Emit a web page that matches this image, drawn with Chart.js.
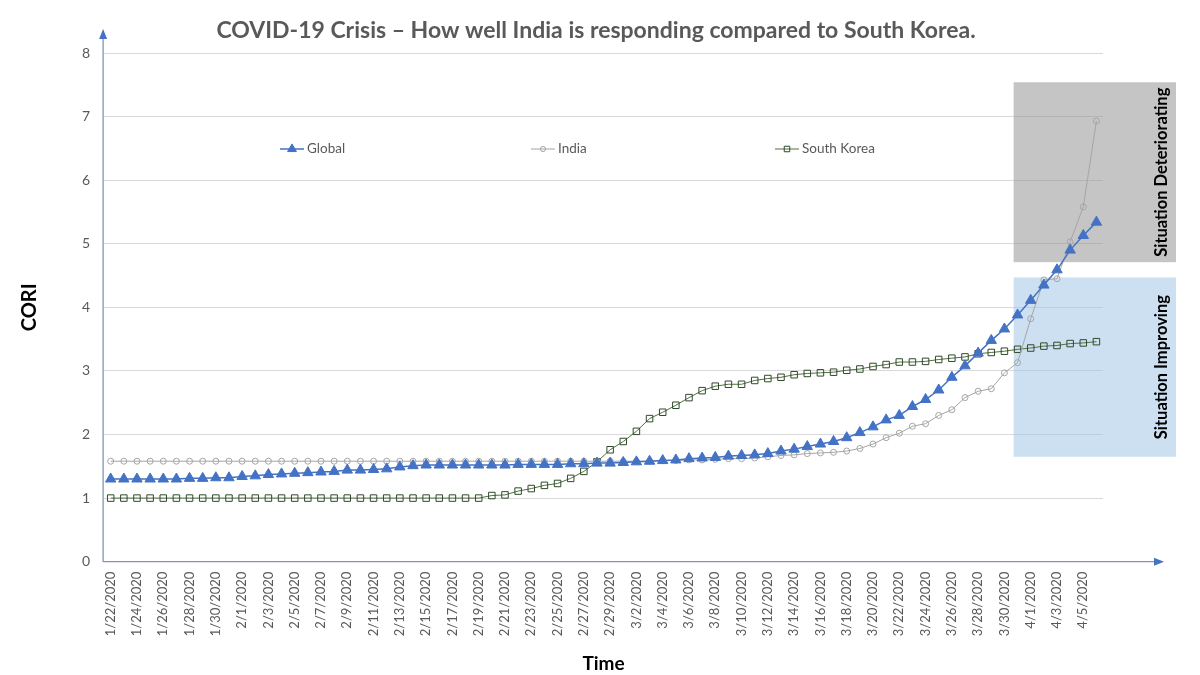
<!DOCTYPE html>
<html>
<head>
<meta charset="utf-8">
<script src="https://cdn.jsdelivr.net/npm/chart.js@4"></script>
<style>
  html, body { margin: 0; padding: 0; background: #fff; }
  #wrap { width: 1200px; height: 675px; }
</style>
</head>
<body>
<div id="wrap"><canvas id="cori-chart" width="1200" height="675"></canvas></div>
<script>
// dates on the x axis (every day, only every second one gets a label)
const dates = [
  '1/22/2020','1/23/2020','1/24/2020','1/25/2020','1/26/2020','1/27/2020','1/28/2020','1/29/2020','1/30/2020','1/31/2020',
  '2/1/2020','2/2/2020','2/3/2020','2/4/2020','2/5/2020','2/6/2020','2/7/2020','2/8/2020','2/9/2020','2/10/2020',
  '2/11/2020','2/12/2020','2/13/2020','2/14/2020','2/15/2020','2/16/2020','2/17/2020','2/18/2020','2/19/2020','2/20/2020',
  '2/21/2020','2/22/2020','2/23/2020','2/24/2020','2/25/2020','2/26/2020','2/27/2020','2/28/2020','2/29/2020',
  '3/1/2020','3/2/2020','3/3/2020','3/4/2020','3/5/2020','3/6/2020','3/7/2020','3/8/2020','3/9/2020','3/10/2020',
  '3/11/2020','3/12/2020','3/13/2020','3/14/2020','3/15/2020','3/16/2020','3/17/2020','3/18/2020','3/19/2020','3/20/2020',
  '3/21/2020','3/22/2020','3/23/2020','3/24/2020','3/25/2020','3/26/2020','3/27/2020','3/28/2020','3/29/2020','3/30/2020',
  '3/31/2020','4/1/2020','4/2/2020','4/3/2020','4/4/2020','4/5/2020','4/6/2020'
];

// CORI values
const globalCori = [
  1.30,1.30,1.30,1.30,1.30,1.30,1.31,1.31,1.32,1.32,
  1.34,1.35,1.37,1.38,1.39,1.40,1.41,1.42,1.44,1.44,
  1.45,1.46,1.49,1.51,1.52,1.52,1.52,1.52,1.52,1.52,
  1.52,1.53,1.53,1.53,1.53,1.54,1.54,1.55,1.55,1.56,
  1.57,1.58,1.59,1.60,1.62,1.63,1.64,1.66,1.67,1.68,
  1.70,1.74,1.77,1.81,1.85,1.89,1.95,2.03,2.12,2.23,
  2.30,2.44,2.55,2.70,2.90,3.08,3.28,3.48,3.66,3.88,
  4.11,4.35,4.59,4.90,5.13,5.34
];
const indiaCori = [
  1.58,1.58,1.58,1.58,1.58,1.58,1.58,1.58,1.58,1.58,
  1.58,1.58,1.58,1.58,1.58,1.58,1.58,1.58,1.58,1.58,
  1.58,1.58,1.58,1.58,1.58,1.58,1.58,1.58,1.58,1.58,
  1.58,1.58,1.58,1.58,1.58,1.58,1.58,1.58,1.58,1.58,
  1.58,1.58,1.59,1.59,1.60,1.60,1.61,1.62,1.62,1.63,
  1.65,1.67,1.68,1.70,1.71,1.72,1.74,1.78,1.85,1.95,
  2.02,2.13,2.17,2.30,2.39,2.58,2.68,2.72,2.97,3.13,
  3.82,4.43,4.45,5.03,5.58,6.93
];
const koreaCori = [
  1.00,1.00,1.00,1.00,1.00,1.00,1.00,1.00,1.00,1.00,
  1.00,1.00,1.00,1.00,1.00,1.00,1.00,1.00,1.00,1.00,
  1.00,1.00,1.00,1.00,1.00,1.00,1.00,1.00,1.00,1.04,
  1.05,1.11,1.15,1.20,1.23,1.31,1.42,1.57,1.76,1.89,
  2.05,2.25,2.35,2.46,2.58,2.69,2.76,2.79,2.79,2.85,
  2.88,2.90,2.94,2.96,2.97,2.98,3.01,3.03,3.07,3.10,
  3.14,3.14,3.15,3.18,3.20,3.22,3.27,3.29,3.31,3.34,
  3.36,3.39,3.40,3.43,3.44,3.46
];

// shaded zones: [from index, CORI low, CORI high, label]
const zones = [
  { from: 68.7, low: 4.71, high: 7.54, label: 'Situation Deteriorating', color: 'rgba(150,150,150,0.55)' },
  { from: 68.7, low: 1.65, high: 4.47, label: 'Situation Improving', color: 'rgba(157,195,230,0.52)' }
];

const FONT = 'Lato, "Noto Sans", sans-serif';
const GREY_TEXT = '#595959';

// background zones, axis lines with arrows
const decorPlugin = {
  id: 'decor',
  beforeDatasetsDraw(chart) {
    const ctx = chart.ctx;
    const x = chart.scales.x, y = chart.scales.y, area = chart.chartArea;
    ctx.save();
    zones.forEach(z => {
      const left = x.getPixelForValue(z.from);
      const right = area.right + 73;
      const top = y.getPixelForValue(z.high);
      const bottom = y.getPixelForValue(z.low);
      ctx.fillStyle = z.color;
      ctx.fillRect(left, top, right - left, bottom - top);
      ctx.save();
      ctx.translate(right - 14, (top + bottom) / 2);
      ctx.rotate(-Math.PI / 2);
      ctx.fillStyle = '#000';
      ctx.font = 'bold 16.5px ' + FONT;
      ctx.textAlign = 'center';
      ctx.textBaseline = 'middle';
      ctx.fillText(z.label, 0, 0);
      ctx.restore();
    });

    // axes
    const ax = area.left - 1, ay = area.bottom;
    ctx.strokeStyle = '#7f95b5';
    ctx.lineWidth = 1.3;
    ctx.beginPath();
    ctx.moveTo(ax, ay);
    ctx.lineTo(ax, area.top - 18);
    ctx.moveTo(ax, ay);
    ctx.lineTo(area.right + 55, ay);
    ctx.stroke();
    ctx.fillStyle = '#4472c4';
    ctx.beginPath();
    ctx.moveTo(ax, area.top - 24);
    ctx.lineTo(ax - 4, area.top - 14);
    ctx.lineTo(ax + 4, area.top - 14);
    ctx.closePath();
    ctx.fill();
    ctx.beginPath();
    ctx.moveTo(area.right + 61, ay);
    ctx.lineTo(area.right + 51, ay - 4);
    ctx.lineTo(area.right + 51, ay + 4);
    ctx.closePath();
    ctx.fill();
    ctx.restore();
  },
  afterDraw(chart) {
    const ctx = chart.ctx;
    ctx.save();
    // title
    ctx.fillStyle = GREY_TEXT;
    ctx.font = 'bold 23px ' + FONT;
    ctx.textAlign = 'center';
    ctx.textBaseline = 'middle';
    ctx.fillText('COVID-19 Crisis \u2013 How well India is responding compared to South Korea.', 596, 31);

    // legend inside the plot
    const legendX = [280, 531, 775];
    const ly = 149;
    chart.data.datasets.forEach((ds, i) => {
      const lx = legendX[i];
      ctx.strokeStyle = ds.borderColor;
      ctx.lineWidth = ds.borderWidth;
      ctx.beginPath();
      ctx.moveTo(lx, ly);
      ctx.lineTo(lx + 24, ly);
      ctx.stroke();
      ctx.fillStyle = ds.pointBackgroundColor;
      ctx.strokeStyle = ds.pointBorderColor;
      ctx.lineWidth = 1;
      Chart.helpers.drawPoint(ctx, { pointStyle: ds.pointStyle, radius: ds.pointRadius * 0.85, borderWidth: 1 }, lx + 12, ly);
      ctx.fillStyle = GREY_TEXT;
      ctx.font = '13.5px ' + FONT;
      ctx.textAlign = 'left';
      ctx.fillText(ds.label, lx + 27, ly);
    });
    ctx.restore();
  }
};

new Chart(document.getElementById('cori-chart').getContext('2d'), {
  type: 'line',
  data: {
    labels: dates,
    datasets: [
      {
        label: 'Global',
        data: globalCori,
        borderColor: '#4472c4',
        borderWidth: 1.5,
        pointStyle: 'triangle',
        pointRadius: 6,
        pointBackgroundColor: '#4472c4',
        pointBorderColor: '#4472c4',
        pointBorderWidth: 1
      },
      {
        label: 'India',
        data: indiaCori,
        borderColor: '#a5a5a5',
        borderWidth: 1,
        pointStyle: 'circle',
        pointRadius: 3,
        pointBackgroundColor: 'rgba(255,255,255,0)',
        pointBorderColor: '#a5a5a5',
        pointBorderWidth: 1
      },
      {
        label: 'South Korea',
        data: koreaCori,
        borderColor: '#51703f',
        borderWidth: 1,
        pointStyle: 'rect',
        pointRadius: 4.6,
        pointBackgroundColor: 'rgba(255,255,255,0)',
        pointBorderColor: '#2f4a2a',
        pointBorderWidth: 1
      }
    ]
  },
  options: {
    responsive: false,
    animation: false,
    layout: { padding: { top: 53, right: 97, bottom: 0, left: 18 } },
    plugins: {
      legend: { display: false },
      tooltip: { enabled: false }
    },
    elements: { line: { tension: 0 } },
    scales: {
      x: {
        offset: true,
        grid: { display: false },
        border: { display: false },
        ticks: {
          color: GREY_TEXT,
          font: { family: FONT, size: 13 },
          autoSkip: false,
          minRotation: 90,
          maxRotation: 90,
          padding: 2,
          callback: function(val, i) { return i % 2 === 0 ? this.getLabelForValue(val) : ''; }
        },
        title: {
          display: true,
          text: 'Time',
          color: '#000',
          font: { family: FONT, size: 19, weight: 'bold' },
          padding: { top: 14, bottom: 0 }
        }
      },
      y: {
        min: 0,
        max: 8,
        grid: { color: '#d9d9d9', drawTicks: false },
        border: { display: false },
        ticks: {
          stepSize: 1,
          color: GREY_TEXT,
          font: { family: FONT, size: 14 },
          padding: 14
        },
        title: {
          display: true,
          text: 'CORI',
          color: '#000',
          font: { family: FONT, size: 20, weight: 'bold' },
          padding: { top: 0, bottom: 26 }
        }
      }
    }
  },
  plugins: [decorPlugin]
});
</script>
</body>
</html>
